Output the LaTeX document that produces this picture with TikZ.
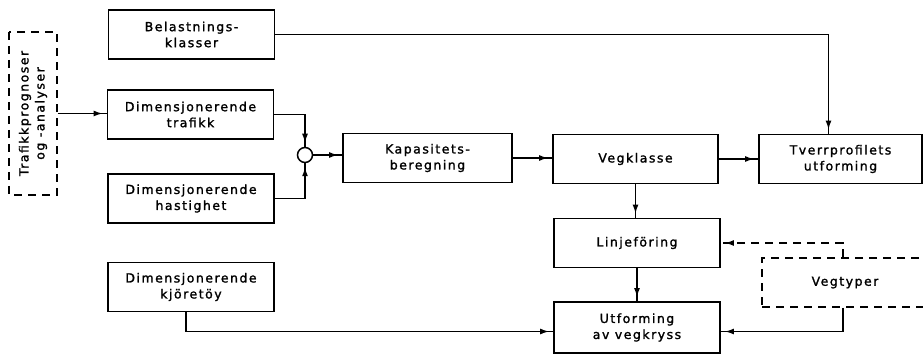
\documentclass[tikz,border=0pt]{standalone}
\usepackage{fontspec}
\usepackage{tikz}
\usetikzlibrary{arrows.meta,decorations.markings}

\newfontfamily\lblfont[LetterSpace=12, FakeBold=1.5]{DejaVu Sans}

\begin{document}
\begin{tikzpicture}[x=1pt, y=-1pt,
        box/.style={draw, line width=1.8pt, align=center, inner sep=0pt,
            minimum width=166pt, minimum height=49pt,
            font=\lblfont\fontsize{12.5}{16}\selectfont},
        dashbox/.style={box, dash pattern=on 8pt off 6pt},
        flow/.style={line width=1.5pt, postaction={decorate},
            decoration={markings,
                mark=at position -4pt with {\arrow{Latex[length=9pt,width=6pt]}}}}]

        \useasboundingbox (0,0) rectangle (923,358);

        %% ── Inndata ───────────────────────────────────────────────────────
        \node[dashbox, rotate=90, minimum width=163pt, minimum height=48pt]
            (prognose) at (33,113.5) {Trafikkprognoser\\og -analyser};
        \node[box] (belast) at (191.5,34.5) {Belastnings-\\klasser};
        \node[box] (dimtraf) at (190.5,114.5) {Dimensjonerende\\trafikk};
        \node[box] (dimhast) at (191,198.5) {Dimensjonerende\\hastighet};
        \node[box] (dimkjor) at (191,287) {Dimensjonerende\\kjöretöy};
        \node[circle, draw, line width=1.5pt, minimum size=15pt, inner sep=0pt]
            (sum) at (305,155) {};

        %% ── Beregning og utforming ────────────────────────────────────────
        \node[box, minimum width=169pt] (kapas) at (427.5,158) {Kapasitets-\\beregning};
        \node[box, minimum width=165pt] (vegkl) at (635.5,159) {Vegklasse};
        \node[box, minimum width=163pt] (tverr) at (840.5,159) {Tverrprofilets\\utforming};
        \node[box] (linje) at (637,243) {Linjeföring};
        \node[box, minimum height=51pt] (utform) at (637,327.5) {Utforming\\av vegkryss};
        \node[dashbox] (vegtyp) at (845,282.5) {Vegtyper};

        %% ── Forbindelser ──────────────────────────────────────────────────
        \draw[flow] (prognose.south) -- (prognose.south -| dimtraf.west);
        \draw[flow] (dimtraf.east) -| (sum.north);
        \draw[flow] (dimhast.east) -| (sum.south);
        \draw[flow] (sum.east) -- (sum.east -| kapas.west);
        \draw[flow] (kapas.east) -- (kapas.east -| vegkl.west);
        \draw[flow] (vegkl.east) -- (tverr.west);
        \draw[flow] (belast.east) -| ([xshift=-12pt]tverr.north);
        \draw[flow] (vegkl.south) -- (vegkl.south |- linje.north);
        \draw[flow] (linje.south) -- (linje.south |- utform.north);
        \draw[flow] ([xshift=-5pt]dimkjor.south) |- ([yshift=-4pt]utform.west);
        \draw[flow, dash pattern=on 8pt off 6pt]
            ([xshift=-2pt]vegtyp.north) |- (linje.east);
        \draw[flow] ([xshift=-2pt]vegtyp.south) |- ([yshift=-4pt]utform.east);

    \end{tikzpicture}
\end{document}
